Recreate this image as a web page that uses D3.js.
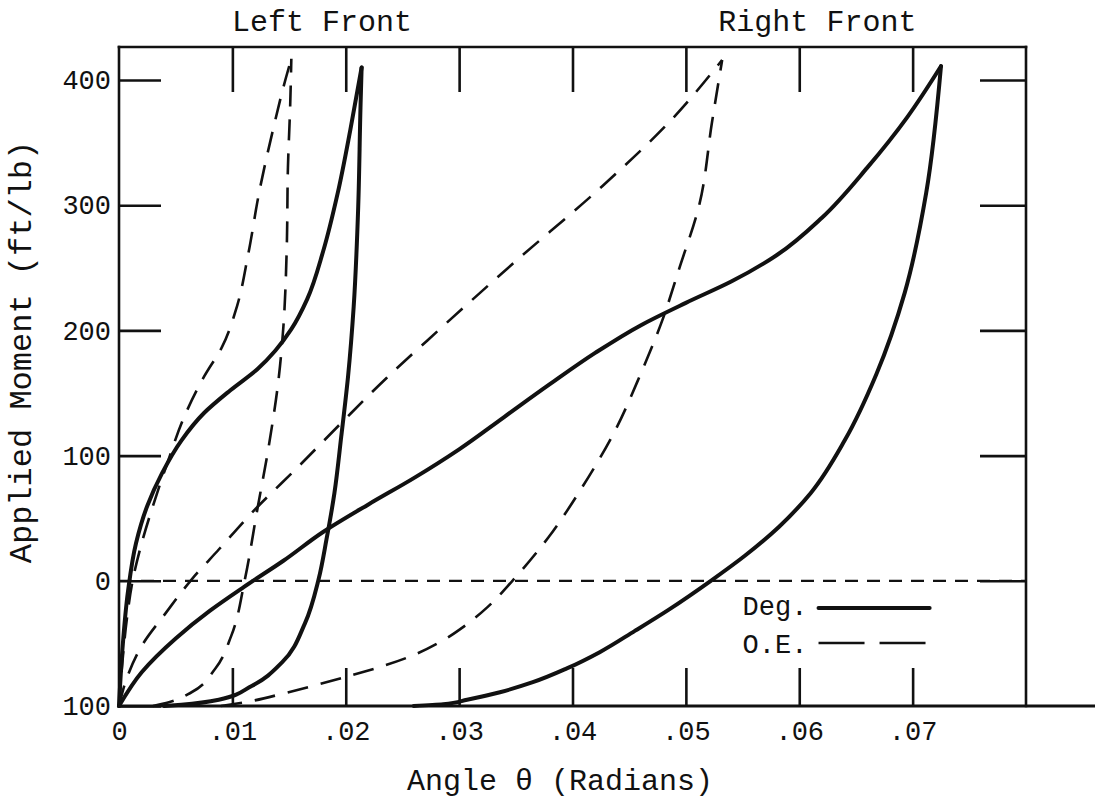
<!DOCTYPE html>
<html>
<head>
<meta charset="utf-8">
<script src="https://cdn.jsdelivr.net/npm/d3@7"></script>
<style>
  html, body { margin: 0; padding: 0; background: #fff; }
  svg { display: block; }
  text { font-family: "Liberation Mono", "Courier New", monospace; fill: #111; }
</style>
</head>
<body>
<svg id="chart" width="1095" height="800"></svg>
<script>
// Applied moment vs. rotation angle: hysteresis loops for the left and right front,
// "Deg." (solid) and "O.E." (dashed). Each loop = loading branch + unloading branch.

const xTickValues = [0, 0.01, 0.02, 0.03, 0.04, 0.05, 0.06, 0.07];
const xTickLabels = ["0", ".01", ".02", ".03", ".04", ".05", ".06", ".07"];
const yTickValues = [-100, 0, 100, 200, 300, 400];
const yTickLabels = ["100", "0", "100", "200", "300", "400"];
const panelTitles = ["Left Front", "Right Front"];
const legendLabels = ["Deg.", "O.E."];
const xAxisTitle = "Angle \u03b8 (Radians)";
const yAxisTitle = "Applied Moment (ft/lb)";

// [angle (rad), moment]
const leftDegLoading = [
  [0, -100], [0.0003, -55], [0.0008, -8], [0.0015, 30], [0.0025, 60], [0.0038, 86],
  [0.0055, 112], [0.0075, 134], [0.0098, 152], [0.0122, 169], [0.0138, 184],
  [0.0152, 201], [0.0166, 225], [0.0180, 263], [0.0193, 310], [0.0204, 360],
  [0.0214, 410]
];
const leftDegUnloading = [
  [0.0214, 410], [0.0213, 378], [0.0211, 299], [0.0207, 219], [0.0202, 163],
  [0.0196, 115], [0.0190, 70], [0.0183, 33], [0.0176, 1], [0.0164, -34],
  [0.0144, -65], [0.0117, -84], [0.0088, -95], [0.0055, -99], [0.004, -100]
];
const leftOELoading = [
  [0, -100], [0.0003, -65], [0.0007, -30], [0.0012, 0], [0.0020, 30], [0.0030, 60],
  [0.0043, 95], [0.0058, 132], [0.0075, 163], [0.0091, 187], [0.0104, 219],
  [0.0114, 261], [0.0124, 312], [0.0135, 357], [0.0147, 401], [0.0152, 417]
];
const leftOEUnloading = [
  [0.0152, 417], [0.0151, 380], [0.0149, 330], [0.0148, 267], [0.0145, 203],
  [0.0141, 163], [0.0132, 107], [0.0122, 57], [0.0111, 1], [0.0099, -44],
  [0.0085, -70], [0.0064, -89], [0.0044, -97], [0.003, -100]
];
const rightDegLoading = [
  [0, -100], [0.002, -73], [0.005, -46], [0.008, -24], [0.011, -5], [0.0145, 16],
  [0.018, 39], [0.022, 61], [0.026, 82], [0.030, 105], [0.034, 131], [0.038, 157],
  [0.042, 182], [0.046, 204], [0.050, 222], [0.054, 239], [0.058, 260],
  [0.062, 290], [0.066, 330], [0.0695, 370], [0.0725, 411]
];
const rightDegUnloading = [
  [0.0725, 411], [0.0712, 310], [0.0693, 230], [0.0668, 165], [0.0640, 112],
  [0.0610, 70], [0.0582, 43], [0.0552, 20], [0.0522, 0], [0.0485, -23],
  [0.0455, -40], [0.0424, -57], [0.0395, -70], [0.0365, -81], [0.0336, -89],
  [0.0307, -95], [0.0286, -98.5], [0.026, -100]
];
const rightOELoading = [
  [0, -100], [0.0008, -75], [0.002, -52], [0.0041, -26], [0.0064, 1], [0.0088, 25],
  [0.0120, 57], [0.0158, 91], [0.0196, 126], [0.0236, 162], [0.0272, 192],
  [0.0347, 253], [0.0426, 315], [0.0487, 368], [0.0532, 416]
];
const rightOEUnloading = [
  [0.0532, 416], [0.0523, 366], [0.0512, 301], [0.0494, 249], [0.0480, 210],
  [0.0460, 165], [0.0437, 119], [0.0408, 74], [0.0379, 35], [0.0347, 0],
  [0.0325, -21], [0.0305, -36], [0.0283, -49], [0.0258, -60], [0.0233, -68],
  [0.0205, -75.5], [0.0175, -83], [0.0145, -90], [0.0117, -96], [0.009, -100]
];

const branches = [
  { data: leftDegLoading, kind: "deg" }, { data: leftDegUnloading, kind: "deg" },
  { data: leftOELoading, kind: "oe" }, { data: leftOEUnloading, kind: "oe" },
  { data: rightDegLoading, kind: "deg" }, { data: rightDegUnloading, kind: "deg" },
  { data: rightOELoading, kind: "oe" }, { data: rightOEUnloading, kind: "oe" }
];

const W = 1095, H = 800;
const svg = d3.select("#chart");
svg.append("rect").attr("width", W).attr("height", H).attr("fill", "#fff");

const x = d3.scaleLinear().domain([0, 0.08]).range([119, 1026]);
const y = d3.scaleLinear().domain([-100, 400]).range([706, 80]);
const frameTop = 47;
const ink = "#111";

const styleSolid = { width: 4, dash: null };
const styleDashed = { width: 2.6, dash: "21,13" };

// frame
const frame = svg.append("g").attr("stroke", ink).attr("fill", "none").attr("stroke-linecap", "square");
frame.append("line").attr("x1", x(0)).attr("x2", x(0)).attr("y1", frameTop).attr("y2", y(-100)).attr("stroke-width", 2.6);
frame.append("line").attr("x1", x(0)).attr("x2", x(0.08)).attr("y1", frameTop).attr("y2", frameTop).attr("stroke-width", 2.6);
frame.append("line").attr("x1", x(0.08)).attr("x2", x(0.08)).attr("y1", frameTop).attr("y2", y(-100)).attr("stroke-width", 2.6);
frame.append("line").attr("x1", x(0)).attr("x2", W).attr("y1", y(-100)).attr("y2", y(-100)).attr("stroke-width", 3.2);

// zero reference line
svg.append("line")
  .attr("x1", x(0)).attr("x2", x(0.08)).attr("y1", y(0)).attr("y2", y(0))
  .attr("stroke", ink).attr("stroke-width", 2.2).attr("stroke-dasharray", "13,9");

function styleAxis(g, fontSize) {
  g.select(".domain").remove();
  g.selectAll(".tick line").attr("stroke", ink).attr("stroke-width", 2.6);
  g.selectAll(".tick text").attr("font-size", fontSize).attr("fill", ink)
    .attr("font-family", "\"Liberation Mono\", \"Courier New\", monospace");
}

// left axis: inward ticks, labels
svg.append("g").attr("transform", `translate(${x(0)},0)`)
  .call(d3.axisLeft(y).tickValues(yTickValues).tickFormat((d, i) => yTickLabels[i])
    .tickSize(-42).tickPadding(8))
  .call(g => styleAxis(g, 27));

// bottom axis
svg.append("g").attr("transform", `translate(0,${y(-100)})`)
  .call(d3.axisBottom(x).tickValues(xTickValues).tickFormat((d, i) => xTickLabels[i])
    .tickSize(-38).tickPadding(15))
  .call(g => styleAxis(g, 27));

// top ticks
svg.append("g").attr("transform", `translate(0,${frameTop})`)
  .call(d3.axisTop(x).tickValues(xTickValues.slice(1)).tickFormat("").tickSize(-45))
  .call(g => styleAxis(g, 27));

// right ticks
svg.append("g").attr("transform", `translate(${x(0.08)},0)`)
  .call(d3.axisRight(y).tickValues(yTickValues.slice(1)).tickFormat("").tickSize(-46))
  .call(g => styleAxis(g, 27));

// loops: every branch is monotone in moment, so interpolate angle as a function of moment
const line = d3.line()
  .x(d => x(d[0])).y(d => y(d[1]))
  .curve(d3.curveMonotoneY);

svg.append("g").selectAll("path").data(branches).join("path")
  .attr("d", d => line(d.data.slice().sort((a, b) => a[1] - b[1])))
  .attr("fill", "none")
  .attr("stroke", ink)
  .attr("stroke-linecap", d => d.kind === "deg" ? "round" : "butt")
  .attr("stroke-linejoin", "round")
  .attr("stroke-width", d => d.kind === "deg" ? styleSolid.width : styleDashed.width)
  .attr("stroke-dasharray", d => d.kind === "deg" ? null : styleDashed.dash);

// panel titles
svg.append("text").attr("x", x(0.0179)).attr("y", frameTop - 16)
  .attr("text-anchor", "middle").attr("font-size", 30).text(panelTitles[0]);
svg.append("text").attr("x", x(0.0616)).attr("y", frameTop - 16)
  .attr("text-anchor", "middle").attr("font-size", 30).text(panelTitles[1]);

// axis titles
svg.append("text").attr("x", 560).attr("y", 790)
  .attr("text-anchor", "middle").attr("font-size", 30).text(xAxisTitle);
svg.append("text")
  .attr("transform", "translate(31,352) rotate(-90)")
  .attr("text-anchor", "middle").attr("font-size", 32).text(yAxisTitle);

// legend
const lg = svg.append("g");
const legendX = x(0.0550);
const swatchX1 = x(0.0617), swatchX2 = x(0.0715);
lg.append("text").attr("x", legendX).attr("y", 615).attr("font-size", 27).text(legendLabels[0]);
lg.append("line").attr("x1", swatchX1).attr("x2", swatchX2).attr("y1", 608).attr("y2", 608)
  .attr("stroke", ink).attr("stroke-width", styleSolid.width).attr("stroke-linecap", "round");
lg.append("text").attr("x", legendX).attr("y", 653).attr("font-size", 27).text(legendLabels[1]);
lg.append("line").attr("x1", swatchX1).attr("x2", swatchX2).attr("y1", 643).attr("y2", 643)
  .attr("stroke", ink).attr("stroke-width", styleDashed.width).attr("stroke-dasharray", "46,15");
</script>
</body>
</html>
